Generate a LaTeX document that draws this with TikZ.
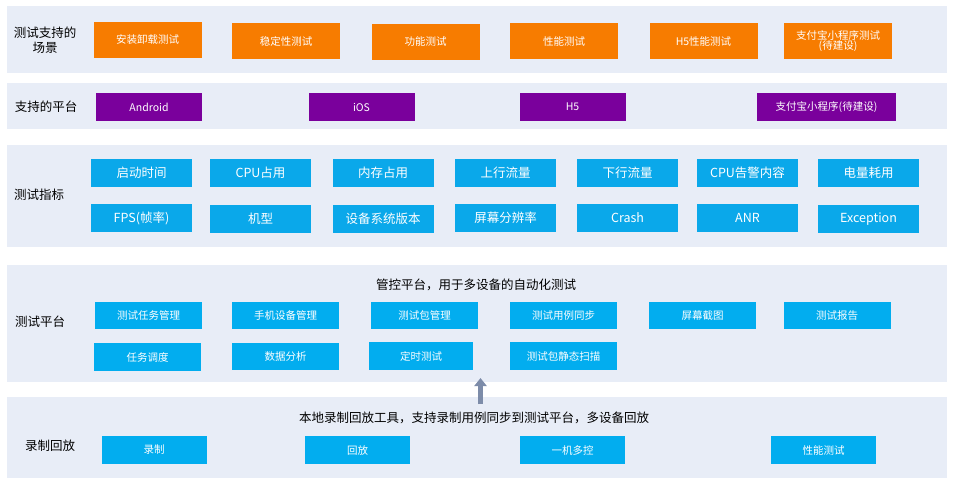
\documentclass[tikz,border=0pt]{standalone}
\usepackage{fontspec}
\setmainfont{Noto Sans CJK SC}
\usetikzlibrary{arrows.meta}
\definecolor{panelbg}{HTML}{E8EDF7}
\definecolor{orangebox}{HTML}{F77C00}
\definecolor{purplebox}{HTML}{7A009C}
\definecolor{bluebox}{HTML}{0AA8EA}
\definecolor{bluebox2}{HTML}{02ADEF}
\definecolor{arrowc}{HTML}{7D8CA9}
\tikzset{
  panel/.style={fill=panelbg, draw=none},
  boxbase/.style={draw=none, inner sep=0pt, text=white, align=center},
  obox/.style={boxbase, fill=orangebox, minimum width=108pt, minimum height=36pt, font=\fontsize{10.5}{12}\selectfont},
  pbox/.style={boxbase, fill=purplebox, minimum width=106pt, minimum height=28pt, font=\fontsize{10.5}{12}\selectfont},
  mbox/.style={boxbase, fill=bluebox, minimum width=101pt, minimum height=28pt, font=\fontsize{12.5}{14}\selectfont},
  tbox/.style={boxbase, fill=bluebox2, minimum width=107pt, minimum height=27.5pt, font=\fontsize{10.5}{12}\selectfont},
  rbox/.style={boxbase, fill=bluebox2, minimum width=105pt, minimum height=28pt, font=\fontsize{10.5}{12}\selectfont},
  lbl/.style={inner sep=0pt, align=center, font=\fontsize{12.5}{15}\selectfont},
  ttl/.style={inner sep=0pt, font=\fontsize{12.5}{15}\selectfont},
  bigarrow/.style={draw=arrowc, line width=4.5pt, -{Triangle[width=12pt,length=8pt]}}
}
\begin{document}
\begin{tikzpicture}[x=1pt,y=-1pt]
\useasboundingbox (0,0) rectangle (957,485);
\fill[white] (0,0) rectangle (957,485);
% panels
\fill[panel] (7,6) rectangle (947,73);
\fill[panel] (7,83) rectangle (947,129);
\fill[panel] (7,145) rectangle (947,247);
\fill[panel] (7,265) rectangle (947,382);
\fill[panel] (7,397) rectangle (947,478);
% panel 1
\node[lbl] (l1) at (45,40) {测试支持的\\场景};
\node[obox] (s1) at (147.5,39.5) {安装卸载测试};
\node[obox] (s2) at (286,41) {稳定性测试};
\node[obox] (s3) at (425.5,42) {功能测试};
\node[obox] (s4) at (564,41) {性能测试};
\node[obox] (s5) at (703.5,41) {H5性能测试};
\node[obox] (s6) at (838,41) {支付宝小程序测试\\[-2pt](待建设)};
% panel 2
\node[lbl] (l2) at (46,107) {支持的平台};
\node[pbox] (p1) at (149,107) {Android};
\node[pbox] (p2) at (361.5,107) {iOS};
\node[pbox] (p3) at (572.5,107) {H5};
\node[pbox, minimum width=139pt] (p4) at (826.5,107) {支付宝小程序(待建设)};
% panel 3
\node[lbl] (l3) at (39,195) {测试指标};
\node[mbox] (m1) at (141.5,173) {启动时间};
\node[mbox] (m2) at (260.5,173) {CPU占用};
\node[mbox] (m3) at (383,173) {内存占用};
\node[mbox] (m4) at (505.5,173) {上行流量};
\node[mbox] (m5) at (627.5,173) {下行流量};
\node[mbox] (m6) at (747.5,173) {CPU告警内容};
\node[mbox] (m7) at (868.5,173) {电量耗用};
\node[mbox] (n1) at (141.5,218) {FPS(帧率)};
\node[mbox] (n2) at (260.5,219) {机型};
\node[mbox] (n3) at (383,219) {设备系统版本};
\node[mbox] (n4) at (505.5,218) {屏幕分辨率};
\node[mbox] (n5) at (627.5,218) {Crash};
\node[mbox] (n6) at (747.5,218) {ANR};
\node[mbox] (n7) at (868.5,219) {Exception};
% panel 4
\node[ttl] (t4) at (476,285) {管控平台，用于多设备的自动化测试};
\node[lbl] (l4) at (40,322) {测试平台};
\node[tbox] (a1) at (148.5,315.5) {测试任务管理};
\node[tbox] (a2) at (285.5,315.5) {手机设备管理};
\node[tbox] (a3) at (424.5,315.5) {测试包管理};
\node[tbox] (a4) at (563.5,315.5) {测试用例同步};
\node[tbox] (a5) at (702.5,315.5) {屏幕截图};
\node[tbox] (a6) at (837,315.5) {测试报告};
\node[tbox] (b1) at (147.5,357) {任务调度};
\node[tbox] (b2) at (285.5,356.5) {数据分析};
\node[tbox, minimum width=104pt] (b3) at (421,356) {定时测试};
\node[tbox] (b4) at (563.5,356) {测试包静态扫描};
% panel 5
\node[ttl] (t5) at (474,418) {本地录制回放工具，支持录制用例同步到测试平台，多设备回放};
\node[lbl] (l5) at (50,446) {录制回放};
\node[rbox] (r1) at (154,450) {录制};
\node[rbox] (r2) at (357.5,450) {回放};
\node[rbox] (r3) at (572.5,450) {一机多控};
\node[rbox] (r4) at (823.5,450) {性能测试};
% arrow
\coordinate (arrS) at (480.5,404);
\coordinate (arrE) at (480.5,378);
\draw[bigarrow] (arrS) -- (arrE);
\end{tikzpicture}
\end{document}
